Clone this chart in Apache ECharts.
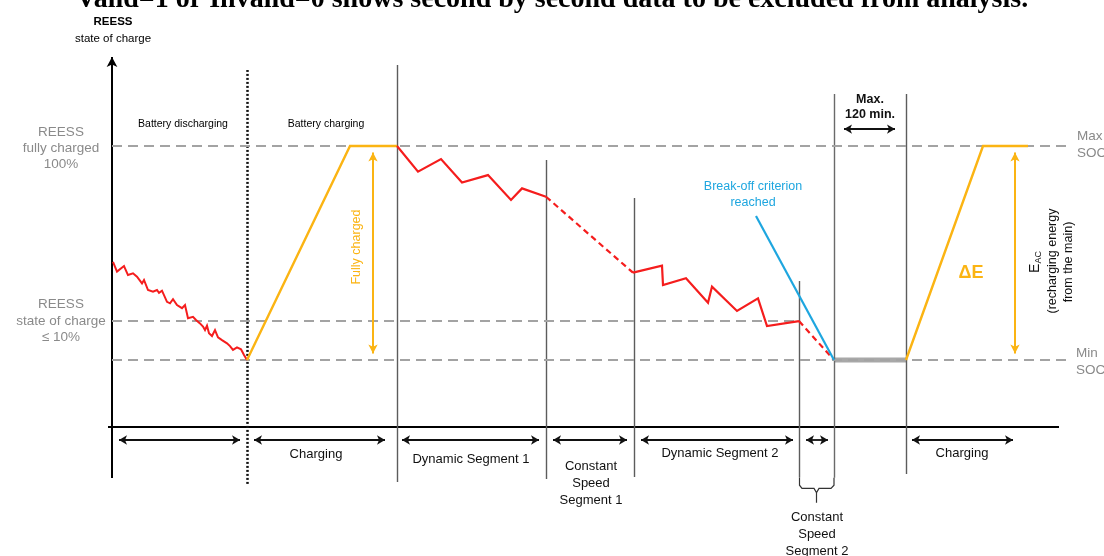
<!DOCTYPE html>
<html><head><meta charset="utf-8">
<script src="https://cdn.jsdelivr.net/npm/echarts@6/dist/echarts.min.js"></script>
<style>html,body{margin:0;padding:0;background:#fff}#c{width:1104px;height:556px}</style>
</head><body><div id="c"></div>
<script>
// ---- DATA (x: schematic time units, y: SOC units; Min SOC = 0, Max SOC = 100) ----
const socMax = 100, socLow = 18.2, socMin = 0;
const discharge = [[1,45.9],[5,41.3],[12,43.9],[16,39.7],[21,40.5],[25,38.9],[30,35.8],[32,37.4],[36,32.7],[41,31.9],[45,32.7],[47,31.4],[50,32.4],[55,27.2],[58,26.5],[61,28.4],[65,25.7],[70,24.2],[73,25.7],[76,19.5],[81,20.2],[84,18.7],[88,17.1],[91,15.6],[93,14.0],[95,16.0],[97,12.5],[100,11.2],[103,14.0],[106,10.6],[110,9.3],[115,7.8],[118,6.5],[121,4.7],[125,5.9],[129,5.0],[132,2.3],[135,0]];
const charge1 = [[135,0],[238,100],[285,100]];
const dynamic1 = [[285,100],[306,88.0],[329,93.9],[350,82.9],[376,86.4],[399,74.8],[410,80.2],[434,76.3]];
const constSpeed1 = [[434,76.3],[521,40.8]];
const dynamic2 = [[521,40.8],[550,44.1],[551,35.0],[574,38.2],[596,26.8],[600,34.3],[625,22.9],[646,28.8],[655,15.9],[687,18.2]];
const constSpeed2 = [[687,18.2],[721,0.5]];
const breakOff = [[644,67.3],[722,0]];
const soakBar = [[722,0],[794,0]];
const charge2 = [[794,0],[871,100],[916,100]];
const bracePts = [[687.5,-55],[687.5,-58.5],[690,-60],[702,-60],[704.5,-62],[704.5,-66.7],[704.5,-62],[707,-60],[719,-60],[722,-58.5],[722,-55]];

const boundaryX = [135, 285, 434, 522, 687, 722, 794];
const boundaryTop = [135.5, 137.9, 93.5, 75.7, 36.9, 124.3, 124.3];
const boundaryBottom = [-57.9, -57, -55.6, -54.7, -55, -55, -53.3];
const levelY = [socMax, socLow, socMin];
const levelEnd = [955, 687, 955];

const axisTop = 143.9, axisBottom = -55.1;
const timeAxisY = -31.3, timeAxisFrom = -4, timeAxisTo = 947;
const segArrowY = -37.4;
const segArrows = [[3,132],[138,277],[286,431],[437,519],[525,685],[690,720],[796,905]];
const maxSoakArrow = [728, 787], maxSoakY = 107.9;
const fullArrowX = [261, 903];

const segLabels = ['Charging', 'Dynamic Segment 1', 'Constant\nSpeed\nSegment 1', 'Dynamic Segment 2', 'Charging', 'Constant\nSpeed\nSegment 2'];

// ---- CHART ----
const RED = '#f51d1d', ORANGE = '#fbb413', BLUE = '#1ea6df', DASH = '#a3a3a3', VLINE = '#5c5c5c';
const HEAD = [7, 9];

function seg(x1, y1, x2, y2, style, s1, s2, size) {
  return [{coord: [x1, y1], lineStyle: style, symbol: s1 || 'none', symbolSize: size || HEAD},
          {coord: [x2, y2], symbol: s2 || 'none', symbolSize: size || HEAD}];
}
const ml = [];
ml.push(seg(0, axisBottom, 0, axisTop - 2.3, {color: '#000', width: 2, type: 'solid'}, 'none', 'arrow', [8, 10]));
ml.push(seg(timeAxisFrom, timeAxisY, timeAxisTo, timeAxisY, {color: '#000', width: 2, type: 'solid'}));
boundaryX.forEach((x, i) => {
  const st = i === 0 ? {color: '#111', width: 2.5, type: [2, 2]} : {color: i === 5 ? '#6a6a6a' : VLINE, width: 1.4, type: 'solid'};
  ml.push(seg(x, boundaryBottom[i], x, boundaryTop[i], st));
});
levelY.forEach((y, i) => ml.push(seg(0, y, levelEnd[i], y, {color: DASH, width: 2, type: [10, 6]})));
segArrows.forEach(a => ml.push(seg(a[0] + 4, segArrowY, a[1] - 4, segArrowY, {color: '#111', width: 1.8, type: 'solid'}, 'arrow', 'arrow', [7, 8])));
ml.push(seg(maxSoakArrow[0] + 4, maxSoakY, maxSoakArrow[1] - 4, maxSoakY, {color: '#111', width: 1.8, type: 'solid'}, 'arrow', 'arrow', [7, 8]));
fullArrowX.forEach(x => ml.push(seg(x, socMin + 3, x, socMax - 3, {color: ORANGE, width: 2, type: 'solid'}, 'arrow', 'arrow', [7, 9])));

function line(data, color, width, type, z) {
  return {type: 'line', data, showSymbol: false, symbol: 'none', z: z || 5, silent: true,
    lineStyle: {color, width, type: type || 'solid', cap: 'butt', join: 'miter'}};
}

const series = [
  {type: 'line', data: [], z: 2, silent: true,
   markLine: {silent: true, animation: false, symbol: ['none', 'none'], label: {show: false}, emphasis: {disabled: true}, data: ml}},
  line(discharge, RED, 2),
  line(charge1, ORANGE, 2.4),
  line(dynamic1, RED, 2.2),
  line(constSpeed1, RED, 2.2, [6, 4]),
  line(dynamic2, RED, 2.2),
  line(constSpeed2, RED, 2.2, [6, 4]),
  line(breakOff, BLUE, 2.2, 'solid', 6),
  line(soakBar, '#a8a8a8', 5, 'solid', 4),
  line(charge2, ORANGE, 2.4),
  line(bracePts, '#333', 1.2)
];

const SANS = '"Liberation Sans", Arial, sans-serif';
function T(x, y, text, o) {
  o = o || {};
  return {type: 'text', x, y, rotation: o.rot || 0, silent: true, z: 100,
    style: {text, fill: o.color || '#111', font: (o.weight || 'normal') + ' ' + (o.size || 13) + 'px ' + (o.family || SANS),
      align: o.align || 'center', verticalAlign: o.va || 'middle', lineHeight: o.lh || 17, rich: o.rich}};
}
const GRAY = '#8a8a8a';
const graphics = [
  T(76, 0, 'Valid=1 or Invalid=0 shows second by second data to be excluded from analysis.', {size: 28, weight: 'bold', family: '"Liberation Serif", "Times New Roman", serif', align: 'left', va: 'middle', color: '#000', lh: 28}),
  T(113, 22, 'REESS', {size: 11.5, color: '#000', weight: 'bold'}),
  T(113, 39, 'state of charge', {size: 11.5, color: '#000'}),
  T(183, 124, 'Battery discharging', {size: 10.5, color: '#000'}),
  T(326, 124, 'Battery charging', {size: 10.5, color: '#000'}),
  T(61, 148, 'REESS\nfully charged\n100%', {size: 13.5, color: GRAY, lh: 16}),
  T(61, 321, 'REESS\nstate of charge\n≤ 10%', {size: 13.5, color: GRAY, lh: 16.5}),
  T(357, 247, 'Fully charged', {size: 12.5, color: ORANGE, rot: Math.PI / 2}),
  T(753, 195, 'Break-off criterion\nreached', {size: 12.5, color: BLUE, lh: 16}),
  T(870, 107, 'Max.\n120 min.', {size: 12.5, color: '#111', weight: 'bold', lh: 15}),
  T(971, 273, 'ΔE', {size: 18, color: ORANGE, weight: 'bold'}),
  T(1035, 262, '{e|E}{s|AC}', {rot: Math.PI / 2, rich: {e: {font: '14px ' + SANS, fill: '#111'}, s: {font: '9px ' + SANS, fill: '#111', padding: [8, 0, 0, 0]}}}),
  T(1053, 261, '(recharging energy', {size: 12.5, rot: Math.PI / 2}),
  T(1069, 262, 'from the main)', {size: 12.5, rot: Math.PI / 2}),
  T(1077, 145, 'Max\nSOC', {size: 13.5, color: GRAY, align: 'left', lh: 17}),
  T(1076, 362, 'Min\nSOC', {size: 13.5, color: GRAY, align: 'left', lh: 17}),
  T(316, 454, segLabels[0], {size: 13}),
  T(471, 459, segLabels[1], {size: 13}),
  T(591, 483, segLabels[2], {size: 13, lh: 17}),
  T(720, 453, segLabels[3], {size: 13}),
  T(962, 453, segLabels[4], {size: 13}),
  T(817, 534, segLabels[5], {size: 13, lh: 17})
];

const chart = echarts.init(document.getElementById('c'), null, {renderer: 'canvas'});
chart.setOption({
  animation: false,
  backgroundColor: '#fff',
  grid: {left: 0, right: 0, top: 39, bottom: 3.4, containLabel: false},
  xAxis: {type: 'value', min: -112, max: 992, show: false},
  yAxis: {type: 'value', min: -90, max: 150, show: false},
  series,
  graphic: graphics
});
</script></body></html>
